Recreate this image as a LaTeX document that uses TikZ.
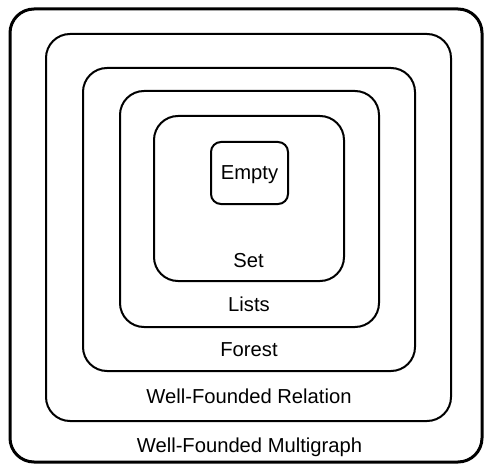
\documentclass[tikz,border=0pt]{standalone}
\usepackage{fontspec}
\setmainfont{Liberation Sans}
\begin{document}
\begin{tikzpicture}[x=1pt,y=-1pt,
  setbox/.style={draw=black, line width=2pt, rounded corners=24pt,
    inner sep=0pt, outer sep=0pt, minimum width=#1},
  outerbox/.style={setbox=#1, line width=3pt},
  label/.style={anchor=base, inner sep=0pt, font=\fontsize{20.2}{24}\selectfont}]
  \useasboundingbox (0,0) rectangle (484,465);

  % nested classes, outermost first
  \node[outerbox=472pt, minimum height=453pt] (multi) at (246,235.5) {};
  \node[setbox=405pt, minimum height=387pt] (rel) at (248.5,227.5) {};
  \node[setbox=332pt, minimum height=303pt] (forest) at (249,219.5) {};
  \node[setbox=259pt, minimum height=236pt] (lists) at (249.5,209) {};
  \node[setbox=190pt, minimum height=165pt] (set) at (249,198.5) {};
  \node[setbox=77pt, minimum height=62pt, rounded corners=10pt] (empty) at (249.5,173) {};

  % class names
  \node[label] (lmulti) at (249.5,452) {Well-Founded Multigraph};
  \node[label] (lrel) at (249,403) {Well-Founded Relation};
  \node[label] (lforest) at (249,356) {Forest};
  \node[label] (llists) at (249,311) {Lists};
  \node[label] (lset) at (248.5,267) {Set};
  \node[label] (lempty) at (249.5,179) {Empty};
\end{tikzpicture}
\end{document}
